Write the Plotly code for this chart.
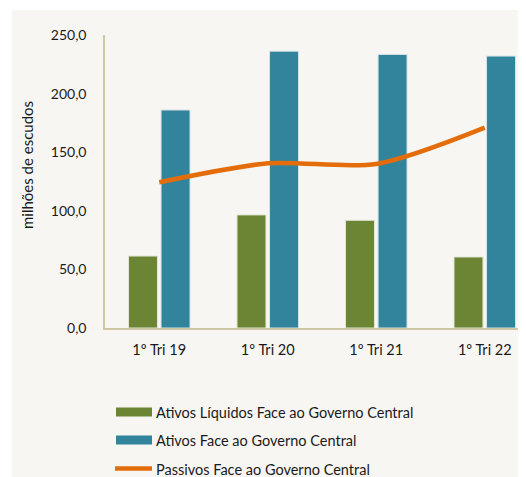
import plotly.graph_objects as go

categories = ["1º Tri 19", "1º Tri 20", "1º Tri 21", "1º Tri 22"]
ativos_liquidos = [61.4, 96.5, 91.9, 60.6]
ativos = [186.0, 236.2, 233.4, 232.0]
passivos = [124.3, 140.5, 140.0, 171.0]
series_names = ["Ativos Líquidos Face ao Governo Central",
                "Ativos Face ao Governo Central",
                "Passivos Face ao Governo Central"]
y_title = "milhões de escudos"
y_ticks = [0, 50, 100, 150, 200, 250]

GREEN = "#6B8535"
BLUE = "#31849B"
ORANGE = "#E46C0A"
BG = "#F7F6F2"
AXIS = "#CFC8A5"
FONT = "Lato"

OFF = 8  # page body margin
W, H = 526 - OFF, 477 - OFF
L, T = 105 - OFF, 35 - OFF
B = H - (328 - OFF)
R = 0
pw = W - L - R
ph = H - T - B

def px_x(p):
    return (p - OFF - L) / pw

def px_y(p):
    return (H - B - (p - OFF)) / ph

fig = go.Figure()
fig.add_trace(go.Bar(x=categories, y=ativos_liquidos, name=series_names[0],
                     marker=dict(color=GREEN, line=dict(color="#E3E6D5", width=1))))
fig.add_trace(go.Bar(x=categories, y=ativos, name=series_names[1],
                     marker=dict(color=BLUE, line=dict(color="#D5E3E6", width=1))))
fig.add_trace(go.Scatter(x=categories, y=passivos, name=series_names[2], mode="lines",
                         line=dict(color=ORANGE, width=4.5, shape="spline", smoothing=0.8)))

shapes = [
    dict(type="rect", xref="paper", yref="paper", x0=px_x(12), x1=px_x(530),
         y0=px_y(490), y1=px_y(10), fillcolor=BG, line=dict(width=0), layer="below"),
    dict(type="rect", xref="paper", yref="paper", x0=px_x(116), x1=px_x(152),
         y0=px_y(416.5), y1=px_y(407.5), fillcolor=GREEN, line=dict(width=0)),
    dict(type="rect", xref="paper", yref="paper", x0=px_x(116), x1=px_x(152),
         y0=px_y(444.5), y1=px_y(435.5), fillcolor=BLUE, line=dict(width=0)),
    dict(type="line", xref="paper", yref="paper", x0=px_x(115), x1=px_x(152),
         y0=px_y(468.5), y1=px_y(468.5), line=dict(color=ORANGE, width=4.5)),
]
annotations = []
for name, yc in zip(series_names, [412.5, 440.5, 469]):
    annotations.append(dict(text=name, xref="paper", yref="paper", x=px_x(154), y=px_y(yc),
                            xanchor="left", yanchor="middle", showarrow=False,
                            font=dict(family=FONT, size=14.5, color="#1a1a1a")))
annotations.append(dict(text=y_title, xref="paper", yref="paper", x=px_x(27), y=px_y(165),
                        xanchor="center", yanchor="middle", textangle=-90, showarrow=False,
                        font=dict(family=FONT, size=15, color="#1a1a1a")))

fig.update_layout(
    width=W, height=H,
    margin=dict(l=L, r=R, t=T, b=B, pad=0),
    paper_bgcolor="white", plot_bgcolor=BG,
    separators=",.",
    barmode="group", bargap=0.4, bargroupgap=0.11,
    showlegend=False,
    font=dict(family=FONT, size=14, color="#1a1a1a"),
    shapes=shapes, annotations=annotations,
    xaxis=dict(range=[-0.5, 3.38], showline=True, linecolor=AXIS, linewidth=1.5,
               ticks="", showgrid=False, tickfont=dict(size=14.5), ticklabelstandoff=8),
    yaxis=dict(range=[0, 250], tickvals=y_ticks, tickformat=".1f", showline=True,
               linecolor=AXIS, linewidth=1.5, showgrid=False, zeroline=False, ticks="",
               ticklabelstandoff=14, tickfont=dict(size=14)),
)

fig.write_html("out.html")
